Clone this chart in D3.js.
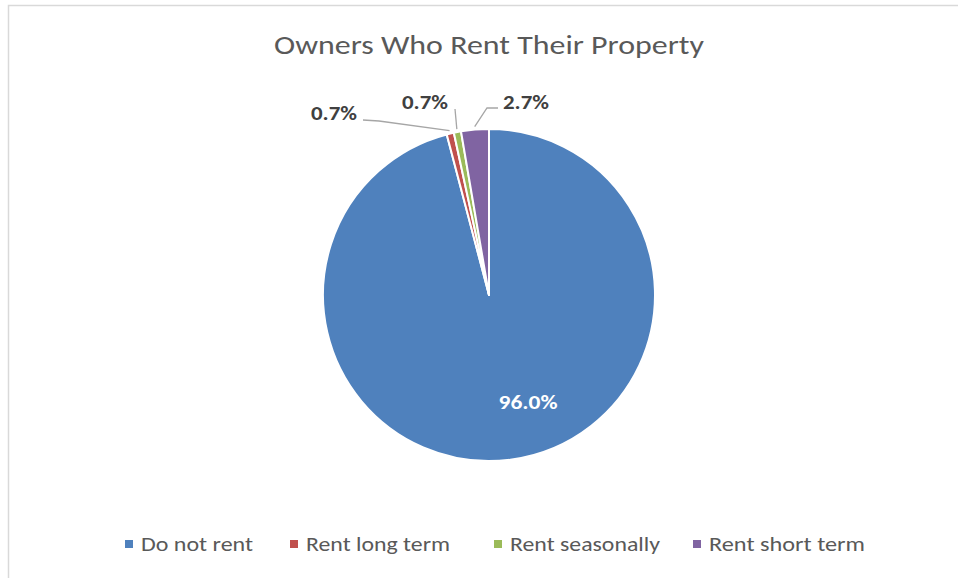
<!DOCTYPE html>
<html>
<head>
<meta charset="utf-8">
<script src="https://cdn.jsdelivr.net/npm/d3@7"></script>
<style>
  html, body { margin: 0; padding: 0; background: #fff; }
  svg { display: block; }
  text { font-family: Carlito, Calibri, Lato, "Open Sans", sans-serif; }
</style>
</head>
<body>
<svg id="chart" width="958" height="578"></svg>
<script>
// ---- data ----
const categories = ["Do not rent", "Rent long term", "Rent seasonally", "Rent short term"];
const values = [96.0, 0.7, 0.7, 2.7];
const labels = ["96.0%", "0.7%", "0.7%", "2.7%"];
const colors = ["#4F81BD", "#C0504D", "#9BBB59", "#8064A2"];
const title = "Owners Who Rent Their Property";

// ---- layout ----
const W = 958, H = 578;
const cx = 489, cy = 295, R = 166;
const svg = d3.select("#chart");

// chart frame
svg.append("rect").attr("x", 8.5).attr("y", 5.5).attr("width", W + 10).attr("height", H + 10)
  .attr("fill", "#fff").attr("stroke", "#d9d9d9").attr("stroke-width", 1.5);

// title
svg.append("text").attr("x", cx).attr("y", 54).attr("text-anchor", "middle")
  .attr("font-size", 27).attr("fill", "#595959")
  .attr("textLength", 430).attr("lengthAdjust", "spacingAndGlyphs")
  .text(title);

const data = categories.map((c, i) => ({ cat: c, value: values[i], label: labels[i], color: colors[i] }));
const pie = d3.pie().sort(null).value(d => d.value).startAngle(0).endAngle(2 * Math.PI);
const arcs = pie(data);
const arc = d3.arc().innerRadius(0).outerRadius(R);
const edgeArc = d3.arc().innerRadius(R + 3).outerRadius(R + 3);

const g = svg.append("g").attr("transform", `translate(${cx},${cy})`);
g.selectAll("path.slice").data(arcs).enter().append("path")
  .attr("class", "slice")
  .attr("d", arc)
  .attr("fill", d => d.data.color)
  .attr("stroke", "#fff").attr("stroke-width", 2).attr("stroke-linejoin", "round");

// label placement (relative to pie centre): text centre, width and leader bend points
const labelLayout = [
  { tx: 39, ty: 107, w: 59, leader: null, fill: "#fff" },
  { tx: -155, ty: -182, w: 46, leader: [[-126, -175], [-110, -174]], fill: "#404040" },
  { tx: -64, ty: -193, w: 46, leader: [[-34, -186]], fill: "#404040" },
  { tx: 37, ty: -193, w: 46, leader: [[9, -187], [-2, -187]], fill: "#404040" }
];

arcs.forEach((a, i) => {
  const L = labelLayout[i];
  if (L.leader) {
    const end = edgeArc.centroid(a);
    const pts = L.leader.concat([end]);
    g.append("path").attr("d", d3.line()(pts))
      .attr("fill", "none").attr("stroke", "#a6a6a6").attr("stroke-width", 1.3);
  }
  g.append("text").attr("x", L.tx).attr("y", L.ty).attr("text-anchor", "middle")
    .attr("dominant-baseline", "central")
    .attr("font-size", 21).attr("font-weight", "bold").attr("fill", L.fill)
    .attr("textLength", L.w).attr("lengthAdjust", "spacingAndGlyphs")
    .text(a.data.label);
});

// legend
const legendX = [125, 290, 494, 693];
const legendW = [112, 144, 150, 156];
const lg = svg.append("g").attr("transform", "translate(0,544)");
data.forEach((d, i) => {
  lg.append("rect").attr("x", legendX[i]).attr("y", -4).attr("width", 8).attr("height", 8).attr("fill", d.color);
  lg.append("text").attr("x", legendX[i] + 16).attr("y", 0).attr("dominant-baseline", "central")
    .attr("font-size", 21).attr("fill", "#595959")
    .attr("textLength", legendW[i]).attr("lengthAdjust", "spacingAndGlyphs")
    .text(d.cat);
});
</script>
</body>
</html>
